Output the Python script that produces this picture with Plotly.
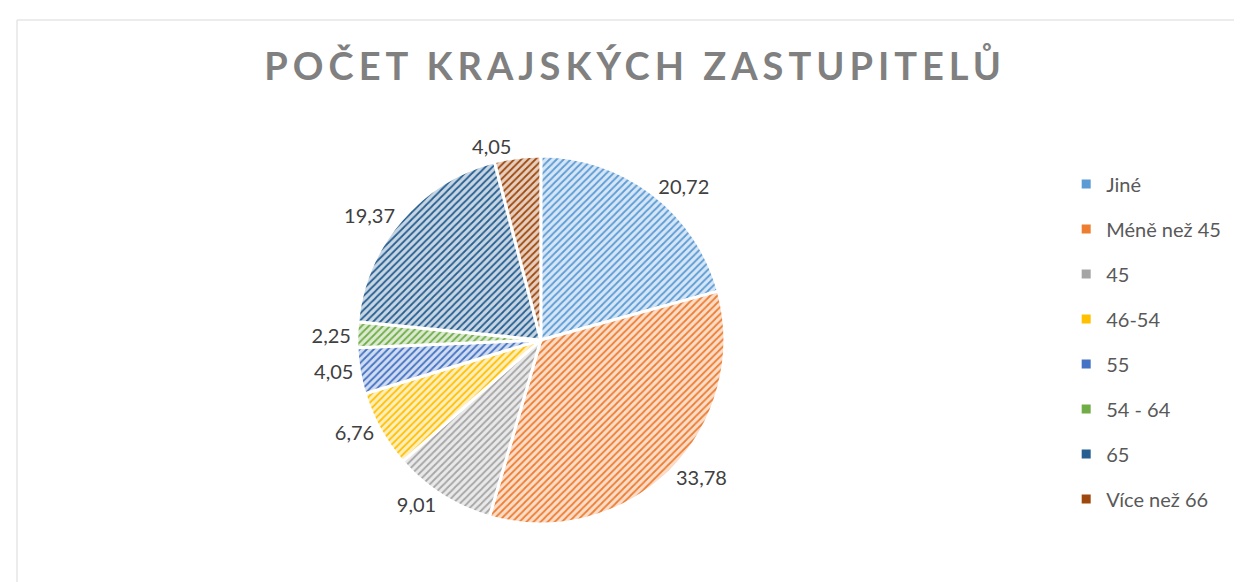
import plotly.graph_objects as go

title_text = "POČET KRAJSKÝCH ZASTUPITELŮ"
labels = ["Jiné", "Méně než 45", "45", "46-54", "55", "54 - 64", "65", "Více než 66"]
values = [20.72, 33.78, 9.01, 6.76, 4.05, 2.25, 19.37, 4.05]
colors = ["#5B9BD5", "#ED7D31", "#A5A5A5", "#FFC000", "#4472C4", "#70AD47", "#255E91", "#9E480E"]
light = ["#D6E6F5", "#FBDDC9", "#E9E9E9", "#FFEFBF", "#D0DCF0", "#DBEAD1", "#C8D6E3", "#E6CFBF"]

FONT = "Lato"

fig = go.Figure()
fig.add_trace(go.Pie(
    labels=labels, values=values, sort=False, direction="clockwise", rotation=0,
    texttemplate="%{value:.2f}", textposition="outside",
    textfont=dict(size=20, color="#404040", family=FONT),
    marker=dict(colors=colors, line=dict(color="white", width=3),
                pattern=dict(shape="/", fgcolor=colors, bgcolor=light, size=5, solidity=0.35, fillmode="replace")),
    showlegend=False, hoverinfo="label+value",
    domain=dict(x=[0.244, 0.614], y=[0.1135, 0.7458]),
))

for lab, col in zip(labels, colors):
    fig.add_trace(go.Scatter(x=[None], y=[None], mode="markers", name=lab, legendgroup=lab,
                             marker=dict(symbol="square", size=9, color=col)))

fig.update_layout(
    width=1242, height=582,
    margin=dict(l=0, r=0, t=0, b=0),
    paper_bgcolor="white", plot_bgcolor="white",
    separators=", ",
    title=dict(text='<span style="letter-spacing:5px">' + title_text + '</span>',
               x=0.505, xanchor="center", y=0.9, yanchor="middle",
               font=dict(size=38, color="#808080", family=FONT, weight="bold")),
    xaxis=dict(visible=False), yaxis=dict(visible=False),
    legend=dict(x=0.852, y=0.731, xanchor="left", yanchor="top", tracegroupgap=16,
                font=dict(size=20, color="#595959", family=FONT), itemwidth=30,
                bgcolor="rgba(0,0,0,0)"),
    shapes=[dict(type="rect", xref="paper", yref="paper", x0=9/1242, x1=1.02, y0=-0.02, y1=1-12/582,
                 line=dict(color="#D9D9D9", width=1), fillcolor="rgba(0,0,0,0)")],
)

fig.write_html("out.html")
